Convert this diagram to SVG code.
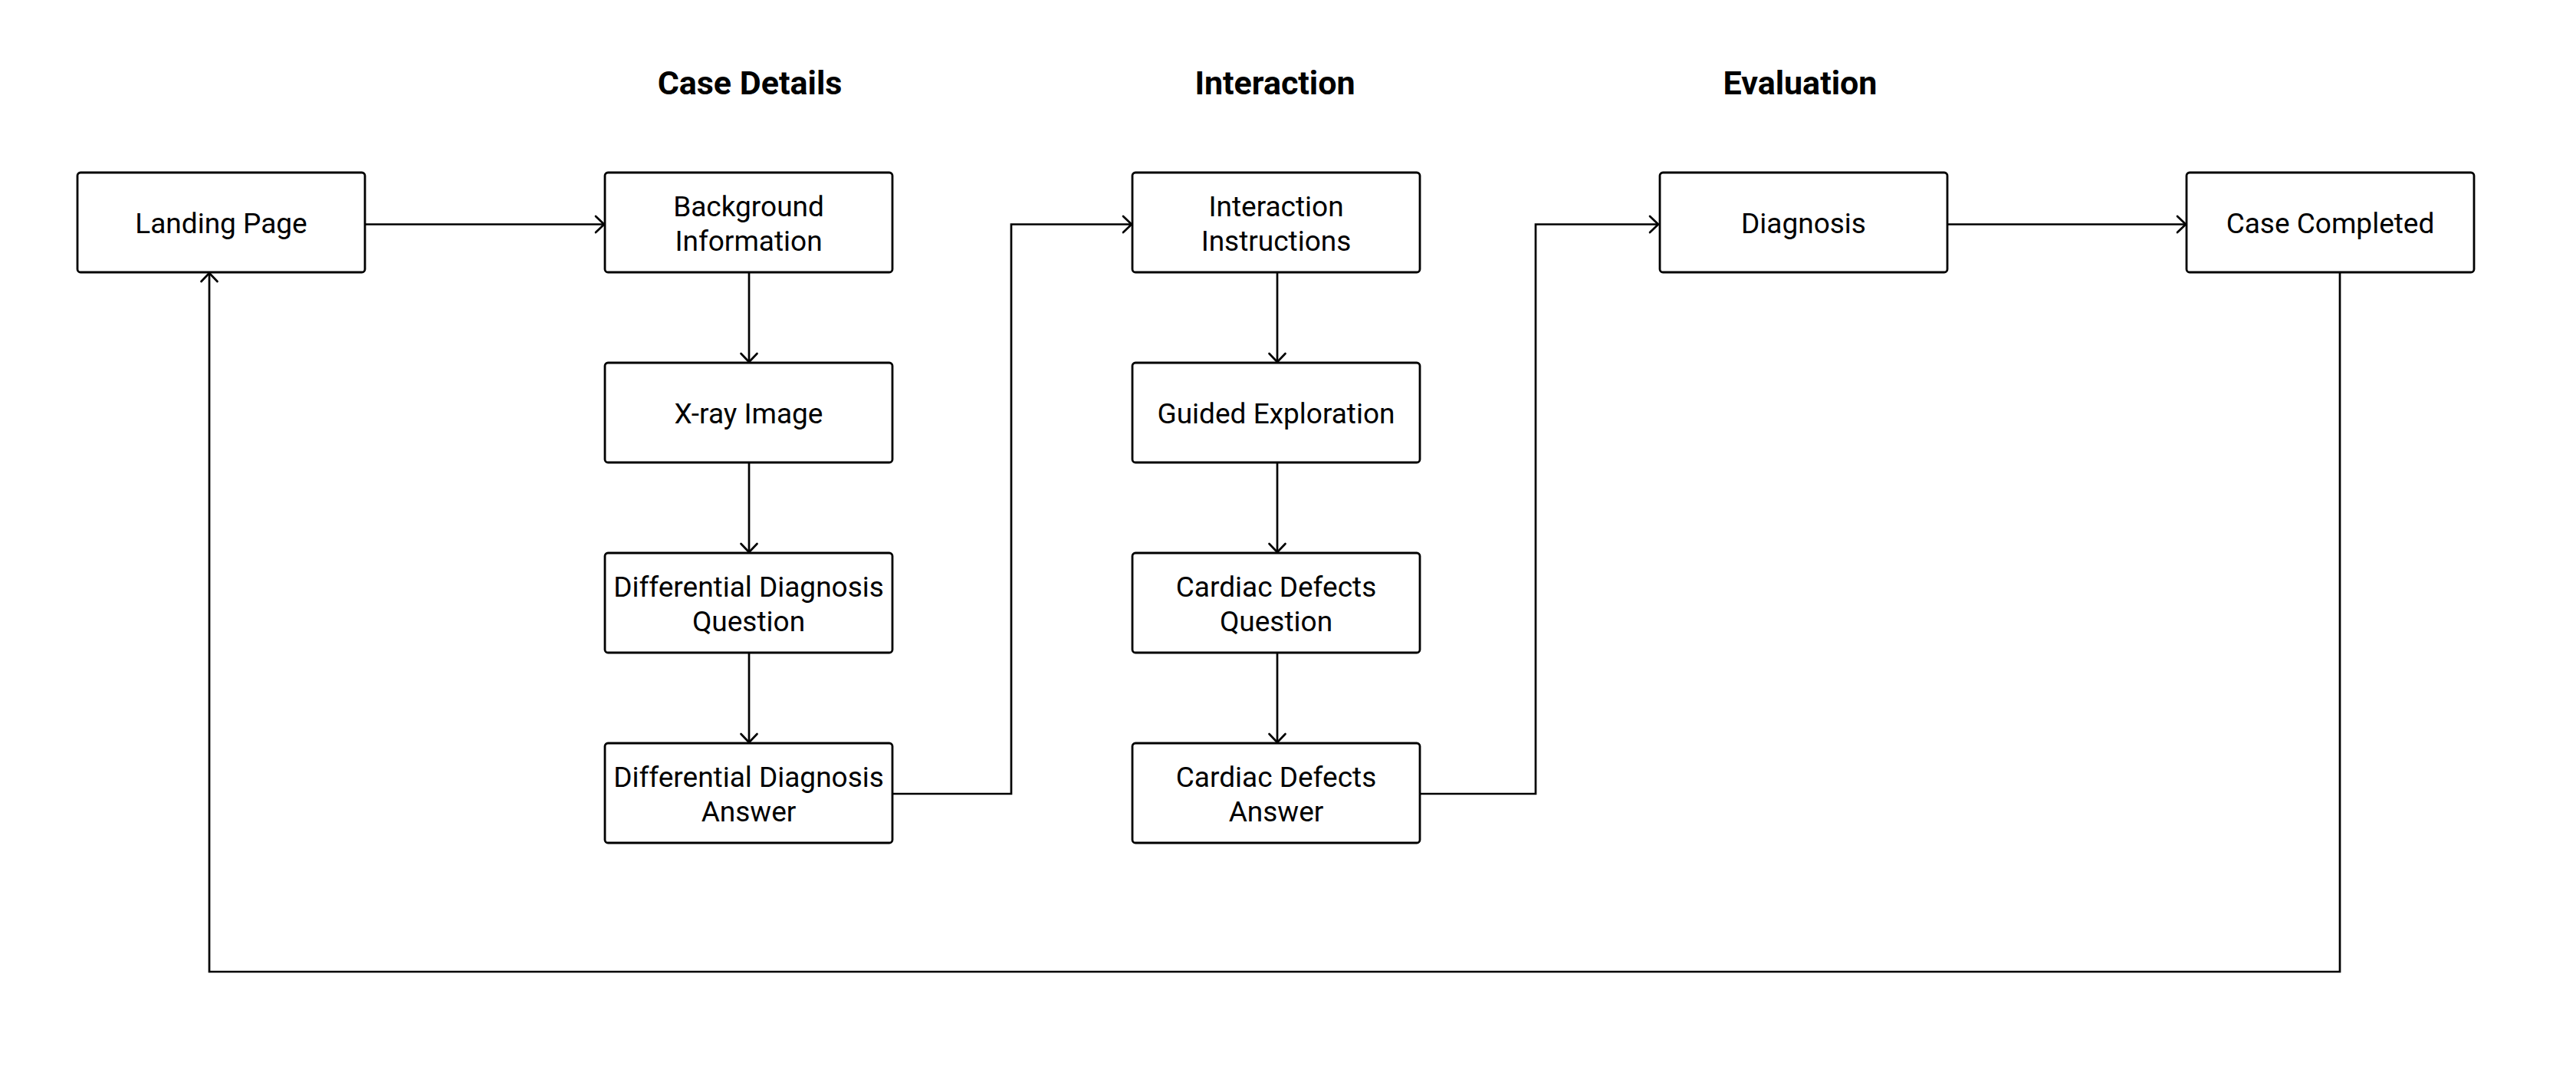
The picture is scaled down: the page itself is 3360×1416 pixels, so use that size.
<svg xmlns="http://www.w3.org/2000/svg" width="3360" height="1416" viewBox="0 0 3360 1416">
<style>
.box{fill:#fff;stroke:#000;stroke-width:2.8}
.lbl{font-family:Roboto,"Liberation Sans",sans-serif;font-size:37px;fill:#000;text-anchor:middle}
.hdr{font-family:Roboto,"Liberation Sans",sans-serif;font-size:43px;font-weight:bold;fill:#000;text-anchor:middle}
.conn{fill:none;stroke:#000;stroke-width:2.7}
</style>
<defs>
<marker id="arr" markerUnits="userSpaceOnUse" markerWidth="30" markerHeight="30" viewBox="-15 -15 30 30" refX="0" refY="0" orient="auto">
<path d="M-11,-10.5 L0,0 L-11,10.5" fill="none" stroke="#000" stroke-width="2.7" stroke-linejoin="round" stroke-linecap="round"/>
</marker>
</defs>
<rect width="3360" height="1416" fill="#fff"/>
<g id="headers">
<text class="hdr" x="978" y="123">Case Details</text>
<text class="hdr" x="1663" y="123">Interaction</text>
<text class="hdr" x="2348" y="123">Evaluation</text>
</g>
<g id="connectors">
<path class="conn" d="M476,292.5 H788" marker-end="url(#arr)"/>
<path class="conn" d="M977,355 V472" marker-end="url(#arr)"/>
<path class="conn" d="M977,603 V720" marker-end="url(#arr)"/>
<path class="conn" d="M977,851 V968" marker-end="url(#arr)"/>
<path class="conn" d="M1164,1035 H1319 V292.5 H1476" marker-end="url(#arr)"/>
<path class="conn" d="M1666,355 V472" marker-end="url(#arr)"/>
<path class="conn" d="M1666,603 V720" marker-end="url(#arr)"/>
<path class="conn" d="M1666,851 V968" marker-end="url(#arr)"/>
<path class="conn" d="M1852,1035 H2003 V292.5 H2163" marker-end="url(#arr)"/>
<path class="conn" d="M2540,292.5 H2851" marker-end="url(#arr)"/>
<path class="conn" d="M3052,355 V1267 H273 V356" marker-end="url(#arr)"/>
</g>
<g id="landing-page">
<rect class="box" x="101" y="225" width="375" height="130" rx="4"/>
<text class="lbl" x="288.5" y="304">Landing Page</text>
</g>
<g id="background-information">
<rect class="box" x="789" y="225" width="375" height="130" rx="4"/>
<text class="lbl" x="976.5" y="282">Background</text>
<text class="lbl" x="976.5" y="326.5">Information</text>
</g>
<g id="xray-image">
<rect class="box" x="789" y="473" width="375" height="130" rx="4"/>
<text class="lbl" x="976.5" y="552">X-ray Image</text>
</g>
<g id="dd-question">
<rect class="box" x="789" y="721" width="375" height="130" rx="4"/>
<text class="lbl" x="976.5" y="778">Differential Diagnosis</text>
<text class="lbl" x="976.5" y="822.5">Question</text>
</g>
<g id="dd-answer">
<rect class="box" x="789" y="969" width="375" height="130" rx="4"/>
<text class="lbl" x="976.5" y="1026">Differential Diagnosis</text>
<text class="lbl" x="976.5" y="1070.5">Answer</text>
</g>
<g id="interaction-instructions">
<rect class="box" x="1477" y="225" width="375" height="130" rx="4"/>
<text class="lbl" x="1664.5" y="282">Interaction</text>
<text class="lbl" x="1664.5" y="326.5">Instructions</text>
</g>
<g id="guided-exploration">
<rect class="box" x="1477" y="473" width="375" height="130" rx="4"/>
<text class="lbl" x="1664.5" y="552">Guided Exploration</text>
</g>
<g id="cd-question">
<rect class="box" x="1477" y="721" width="375" height="130" rx="4"/>
<text class="lbl" x="1664.5" y="778">Cardiac Defects</text>
<text class="lbl" x="1664.5" y="822.5">Question</text>
</g>
<g id="cd-answer">
<rect class="box" x="1477" y="969" width="375" height="130" rx="4"/>
<text class="lbl" x="1664.5" y="1026">Cardiac Defects</text>
<text class="lbl" x="1664.5" y="1070.5">Answer</text>
</g>
<g id="diagnosis">
<rect class="box" x="2165" y="225" width="375" height="130" rx="4"/>
<text class="lbl" x="2352.5" y="304">Diagnosis</text>
</g>
<g id="case-completed">
<rect class="box" x="2852" y="225" width="375" height="130" rx="4"/>
<text class="lbl" x="3039.5" y="304">Case Completed</text>
</g>
</svg>
